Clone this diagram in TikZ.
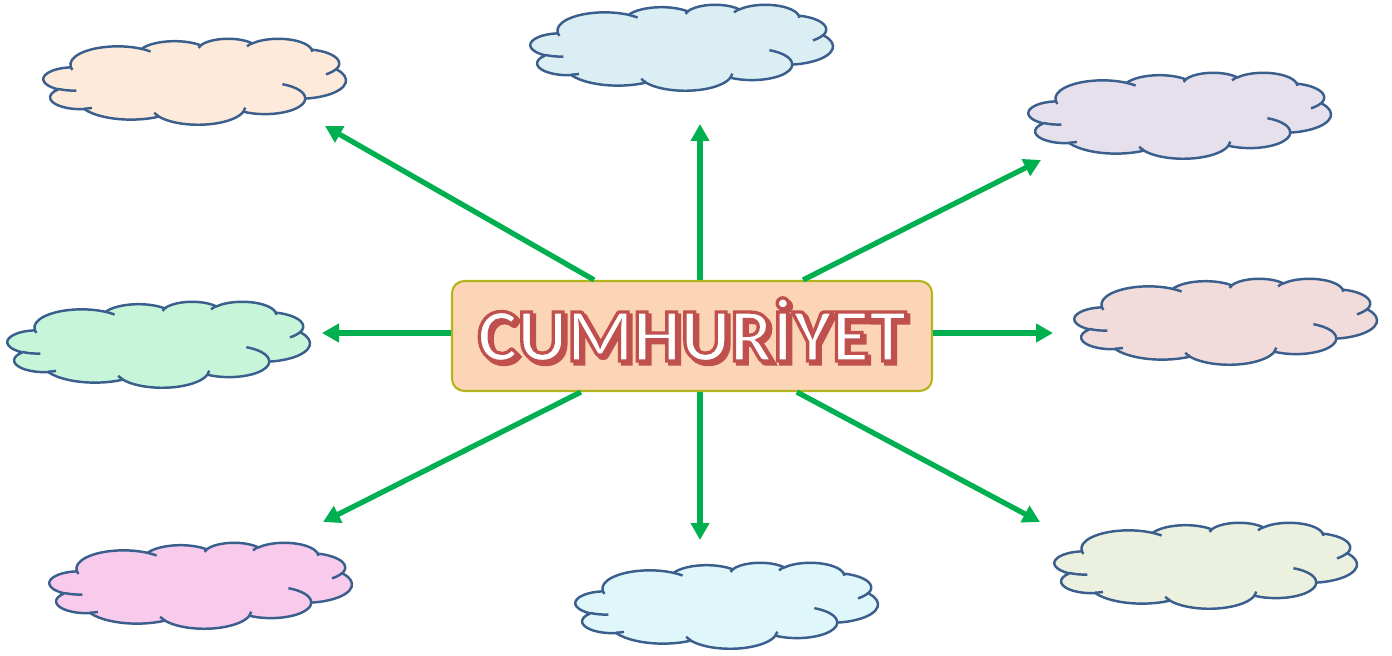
\documentclass[tikz,border=0pt]{standalone}
\usepackage{fontspec}
\usepackage{tikz}
\usetikzlibrary{arrows.meta,calc,positioning}
\newfontfamily\titlefont{Carlito}
\definecolor{Arrow}{HTML}{00B050}
\definecolor{CloudLine}{HTML}{3A5F8C}
\definecolor{BoxFill}{HTML}{FBD5B5}
\definecolor{BoxLine}{HTML}{B3B51E}
\definecolor{TitleRed}{HTML}{C0504D}
\definecolor{Peach}{HTML}{FDEADA}
\definecolor{Sky}{HTML}{DBEEF4}
\definecolor{Lilac}{HTML}{E6E0EC}
\definecolor{Mint}{HTML}{C7F5DA}
\definecolor{Rose}{HTML}{F2DCDB}
\definecolor{Pink}{HTML}{F8CAEB}
\definecolor{Ice}{HTML}{DFF7FA}
\definecolor{Olive}{HTML}{EBF1DE}
% one puff of the cloud: x radius, y radius, start and sweep angle (seen angles)
\newcommand{\cloudarc}[4]{\pgfextra{\pgfmathparse{atan2(#1*sin(#3),#2*cos(#3))}\xdef\cloudS{\pgfmathresult}\pgfmathparse{atan2(#1*sin(#3+#4),#2*cos(#3+#4))}\xdef\cloudE{\pgfmathresult}\pgfmathparse{\cloudE<\cloudS?\cloudE+360:\cloudE}\xdef\cloudE{\pgfmathresult}}arc[x radius=#1,y radius=#2,start angle=\cloudS,end angle=\cloudE]}
\newcommand{\outlined}[1]{\special{pdf:literal direct 2 Tr 1.9 w 0.753 0.314 0.302 RG}#1\special{pdf:literal direct 0 Tr}}
\tikzset{cloudline/.style={draw=CloudLine,line width=1.4pt,line join=round},puffy/.pic={\begin{scope}[xscale=.1400,yscale=-.0398]
  \draw[cloudline,pic actions](3.9,14.37)\cloudarc{6.753}{9.19}{-190.4875}{123.7805}\cloudarc{5.333}{7.267}{-144.1024}{89.9452}\cloudarc{4.365}{5.945}{-145.8079}{99.7230}\cloudarc{4.857}{6.595}{-130.9861}{117.2417}\cloudarc{5.333}{7.273}{-78.7089}{109.0269}\cloudarc{6.775}{9.22}{-46.2673}{130.269}\cloudarc{5.785}{7.867}{0.625}{114.0333}\cloudarc{6.752}{9.215}{22.4516}{115.1726}\cloudarc{7.72}{10.543}{66.2426}{75.711}\cloudarc{4.36}{5.918}{-274.9421}{146.7356}\cloudarc{4.345}{5.945}{-246.8285}{152.5189}--cycle;
  \draw[cloudline](4.693,26.177)\cloudarc{4.345}{5.945}{86.742}{26.4295}(6.928,34.899)\cloudarc{4.36}{5.918}{73.6105}{11.4475}(16.478,39.09)\cloudarc{6.752}{9.215}{137.6242}{14.0811}(28.827,34.751)\cloudarc{6.752}{9.215}{6.4533}{15.9984}(34.129,22.954)\cloudarc{5.785}{7.867}{-70.2924}{70.9174}(41.798,15.354)\cloudarc{5.333}{7.273}{30.318}{27.7515}(38.324,5.426)\cloudarc{4.857}{6.595}{-13.7443}{14.8589}(29.078,3.952)\cloudarc{4.857}{6.595}{-149.1815}{18.1954}(22.141,4.72)\cloudarc{4.365}{5.945}{-163.4943}{17.6864}(14,5.192)\cloudarc{6.753}{9.19}{-66.707}{12.3194}(4.127,15.789)\cloudarc{6.753}{9.19}{157.6544}{11.8582};
  \end{scope}},title/.style={rounded corners=7pt,draw=BoxLine,fill=BoxFill,line width=1.2pt,minimum width=9.6cm,minimum height=2.2cm},word/.style={font=\titlefont\bfseries\fontsize{43}{43}\selectfont,inner sep=0pt,anchor=base},flow/.style={-{Triangle[length=3.4mm,width=3.6mm]},line width=3pt,draw=Arrow}}

\begin{document}
\begin{tikzpicture}
        \useasboundingbox(0,0)rectangle(27.84,13.1);
        % center title
        \node[title](box)at(13.84,6.38){};
        \node[word,TitleRed](shadow)at($(box.center)+(.06,-.56)$){\outlined{CUMHURİYET}};
        \node[word,white](name)at($(box.center)+(0,-.5)$){\outlined{CUMHURİYET}};
        % clouds
        \pic[fill=Peach](c1)at(.87,12.33){puffy};
        \pic[fill=Sky](c2)at(10.61,13.01){puffy};
        \pic[fill=Lilac](c3)at(20.57,11.65){puffy};
        \pic[fill=Mint](c4)at(.15,7.07){puffy};
        \pic[fill=Rose](c5)at(21.49,7.53){puffy};
        \pic[fill=Pink](c6)at(.99,2.25){puffy};
        \pic[fill=Ice](c7)at(11.51,1.85){puffy};
        \pic[fill=Olive](c8)at(21.09,2.65){puffy};
        % arrow ends
        \coordinate(ul)at(6.5,10.58);
        \coordinate(up)at(14.0,10.62);
        \coordinate(ur)at(20.82,9.9);
        \coordinate(lt)at(6.44,6.44);
        \coordinate(rt)at(21.06,6.44);
        \coordinate(dl)at(6.46,2.66);
        \coordinate(dn)at(14.0,2.3);
        \coordinate(dr)at(20.8,2.66);
        \draw[flow](box)--(ul);
        \draw[flow](box.north-|up)--(up);
        \draw[flow](box)--(ur);
        \draw[flow](box.west|-lt)--(lt);
        \draw[flow](box.east|-rt)--(rt);
        \draw[flow](box)--(dl);
        \draw[flow](box.south-|dn)--(dn);
        \draw[flow](box)--(dr);
      \end{tikzpicture}
\end{document}
